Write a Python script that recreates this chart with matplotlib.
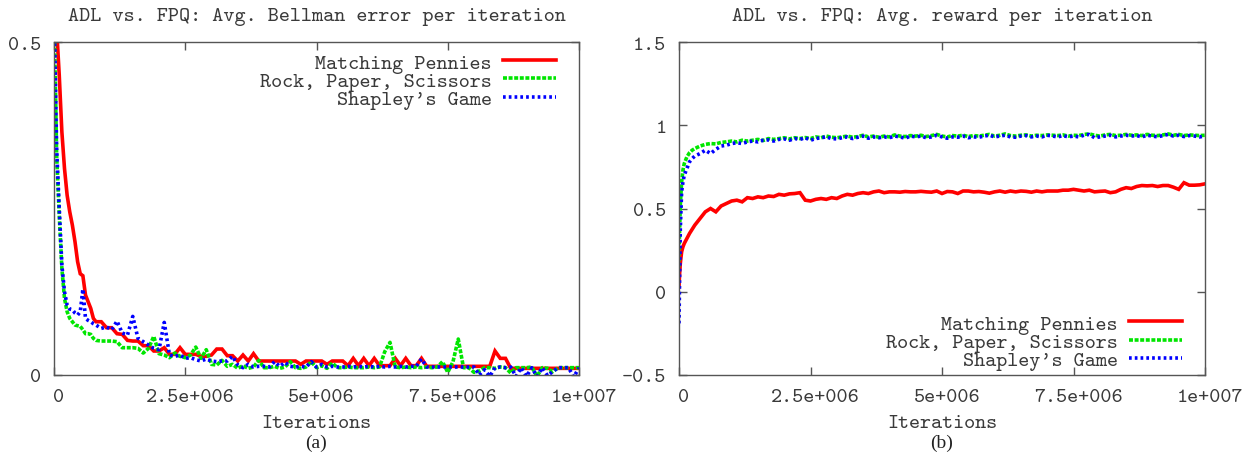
import numpy as np
import matplotlib
matplotlib.use("Agg")
import matplotlib.pyplot as plt
import matplotlib.transforms as mtransforms

# ---------------- data ----------------
# iterations (x) in units of 1e5
x_early_left = [0, 0.5, 1, 1.5, 2, 2.5, 3, 3.5, 4, 4.5, 5, 5.5, 6, 6.5, 7, 7.5, 8]
x_rest = list(range(9, 101))
x_left = np.array(x_early_left + x_rest) * 1e5

bell_mp = [0.62, 0.52, 0.45, 0.365, 0.31, 0.27, 0.245, 0.225, 0.20, 0.17, 0.152, 0.149, 0.12, 0.11, 0.10, 0.085, 0.080,
           0.080, 0.071, 0.071, 0.062, 0.061, 0.052, 0.051, 0.051, 0.044, 0.044, 0.036, 0.036, 0.041, 0.031, 0.031,
           0.041, 0.031, 0.031, 0.031, 0.028, 0.028, 0.030, 0.039, 0.039, 0.029, 0.029, 0.021, 0.030, 0.021, 0.032,
           0.021, 0.021, 0.021, 0.021, 0.021, 0.021, 0.021, 0.021, 0.016, 0.021, 0.021, 0.021, 0.021, 0.016, 0.021, 0.021, 0.021,
           0.014, 0.025, 0.014, 0.025, 0.014, 0.025, 0.014, 0.014, 0.014, 0.025, 0.014, 0.025, 0.014, 0.014, 0.025,
           0.013, 0.013, 0.013, 0.013, 0.013, 0.013, 0.013, 0.013, 0.013, 0.013, 0.013, 0.013, 0.013,
           0.036, 0.025, 0.025,
           0.010, 0.010, 0.010, 0.010, 0.010, 0.010, 0.010, 0.010, 0.010, 0.010, 0.010, 0.010, 0.010, 0.010]
bell_rps = [0.55, 0.33, 0.24, 0.16, 0.115, 0.095, 0.085, 0.080, 0.075, 0.074, 0.073, 0.068, 0.062, 0.062, 0.061, 0.055, 0.052,
            0.051, 0.051, 0.051, 0.050, 0.041, 0.041, 0.041, 0.040, 0.033, 0.040, 0.058, 0.032, 0.030, 0.026, 0.033,
            0.028, 0.026, 0.030, 0.042, 0.025, 0.038, 0.016, 0.015, 0.022, 0.013, 0.016, 0.010, 0.014, 0.010, 0.012,
            0.022, 0.011, 0.011, 0.013, 0.010, 0.012, 0.020, 0.011, 0.010, 0.012, 0.020, 0.011, 0.014, 0.010, 0.018, 0.011, 0.011,
            0.012, 0.011, 0.011, 0.011, 0.012, 0.011, 0.012, 0.035, 0.049, 0.012, 0.011, 0.012, 0.011, 0.012, 0.011,
            0.012, 0.011, 0.012, 0.020, 0.004, 0.020, 0.054, 0.011, 0.011, 0.004, 0.006, 0.011, 0.011,
            0.010, 0.012, 0.011,
            0.003, 0.011, 0.011, 0.011, 0.012, -0.002, 0.011, 0.010, 0.005, 0.011, 0.011, 0.011, 0.011, 0.011]
bell_sg = [0.55, 0.34, 0.25, 0.165, 0.125, 0.105, 0.099, 0.098, 0.093, 0.090, 0.095, 0.129, 0.085, 0.082, 0.080, 0.077, 0.075,
           0.070, 0.072, 0.068, 0.081, 0.063, 0.060, 0.088, 0.055, 0.050, 0.045, 0.040, 0.038, 0.079, 0.030, 0.028,
           0.030, 0.025, 0.026, 0.023, 0.021, 0.024, 0.021, 0.020, 0.021, 0.021, 0.028, 0.015, 0.011, 0.016, 0.012,
           0.013, 0.013, 0.012, 0.020, 0.013, 0.019, 0.013, 0.012, 0.013, 0.012, 0.020, 0.012, 0.016, 0.012, 0.013, 0.012, 0.012,
           0.013, 0.012, 0.013, 0.012, 0.013, 0.012, 0.013, 0.012, 0.013, 0.012, 0.013, 0.012, 0.013, 0.013, 0.024,
           0.012, 0.012, 0.012, 0.012, 0.012, 0.012, 0.012, 0.012, 0.012, 0.012, 0.000, 0.008, -0.002,
           0.011, 0.012, 0.011,
           0.012, -0.002, 0.011, -0.002, 0.011, -0.002, 0.011, -0.001, 0.005, 0.011, 0.011, 0.011, -0.003, 0.011]

x_early_right = [0, 0.1, 0.25, 0.5, 0.75, 1, 1.5, 2, 2.5, 3, 4, 5, 6, 7, 8]
x_right = np.array(x_early_right + x_rest) * 1e5

rew_mp = [0.03, 0.10, 0.17, 0.24, 0.27, 0.29, 0.32, 0.35, 0.375, 0.40, 0.44, 0.48, 0.50, 0.48, 0.515,
          0.53, 0.545, 0.55, 0.54, 0.565, 0.56, 0.57, 0.565, 0.575, 0.572, 0.585, 0.58, 0.588, 0.59, 0.595,
          0.55, 0.545, 0.555, 0.56, 0.555, 0.565, 0.56, 0.575, 0.585, 0.58, 0.59, 0.595, 0.59, 0.60, 0.605,
          0.595, 0.60, 0.60, 0.598, 0.602, 0.60, 0.60, 0.603, 0.60, 0.598, 0.605, 0.59, 0.602, 0.60, 0.59, 0.605, 0.605,
          0.60, 0.602, 0.598, 0.592, 0.60, 0.605, 0.598, 0.605, 0.60, 0.605, 0.603, 0.598, 0.605, 0.60, 0.605,
          0.605, 0.605, 0.61, 0.61, 0.615, 0.61, 0.605, 0.61, 0.60, 0.603, 0.605, 0.595, 0.60,
          0.615, 0.625, 0.62,
          0.632, 0.638, 0.636, 0.638, 0.632, 0.638, 0.638, 0.628, 0.615, 0.655, 0.64, 0.64, 0.642, 0.648]
rew_rps = [0.15, 0.35, 0.52, 0.66, 0.73, 0.77, 0.81, 0.835, 0.85, 0.86, 0.875, 0.885, 0.89, 0.888, 0.897,
           0.90, 0.905, 0.90, 0.91, 0.905, 0.91, 0.915, 0.908, 0.92, 0.915, 0.92, 0.925, 0.918, 0.925, 0.92,
           0.926, 0.92, 0.93, 0.925, 0.935, 0.928, 0.925, 0.93, 0.935, 0.928, 0.932, 0.94, 0.93, 0.935, 0.928,
           0.935, 0.93, 0.942, 0.935, 0.932, 0.938, 0.935, 0.94, 0.932, 0.938, 0.945, 0.935, 0.93, 0.938, 0.935, 0.94, 0.932,
           0.938, 0.935, 0.94, 0.945, 0.935, 0.94, 0.948, 0.938, 0.935, 0.94, 0.942, 0.935, 0.94, 0.938, 0.942,
           0.94, 0.938, 0.942, 0.935, 0.94, 0.938, 0.945, 0.948, 0.94, 0.935, 0.942, 0.945, 0.938,
           0.94, 0.945, 0.94,
           0.942, 0.938, 0.945, 0.94, 0.938, 0.942, 0.948, 0.94, 0.945, 0.938, 0.942, 0.94, 0.938, 0.94]
rew_sg = [-0.19, 0.05, 0.38, 0.60, 0.66, 0.70, 0.74, 0.78, 0.80, 0.815, 0.83, 0.85, 0.83, 0.855, 0.875,
          0.88, 0.89, 0.895, 0.89, 0.90, 0.905, 0.90, 0.91, 0.912, 0.905, 0.915, 0.918, 0.91, 0.92, 0.915,
          0.925, 0.91, 0.92, 0.925, 0.93, 0.92, 0.918, 0.925, 0.93, 0.92, 0.928, 0.935, 0.922, 0.93, 0.925,
          0.93, 0.925, 0.935, 0.93, 0.922, 0.935, 0.93, 0.935, 0.925, 0.93, 0.94, 0.93, 0.922, 0.93, 0.928, 0.935, 0.925,
          0.93, 0.928, 0.935, 0.94, 0.93, 0.935, 0.94, 0.93, 0.928, 0.935, 0.938, 0.93, 0.935, 0.93, 0.94,
          0.935, 0.93, 0.938, 0.93, 0.935, 0.93, 0.94, 0.945, 0.925, 0.93, 0.935, 0.94, 0.93,
          0.935, 0.94, 0.935,
          0.938, 0.93, 0.94, 0.935, 0.93, 0.938, 0.945, 0.935, 0.94, 0.932, 0.938, 0.935, 0.93, 0.935]

series_names = ["Matching Pennies", "Rock, Paper, Scissors", "Shapley's Game"]
xtick_vals = [0, 2.5e6, 5e6, 7.5e6, 1e7]
xtick_labels = ["0", "2.5e+006", "5e+006", "7.5e+006", "1e+007"]
left_yticks = [0, 0.5]
left_ylabels = ["0", "0.5"]
right_yticks = [-0.5, 0, 0.5, 1, 1.5]
right_ylabels = ["-0.5", "0", "0.5", "1", "1.5"]
titles = ["ADL vs. FPQ: Avg. Bellman error per iteration", "ADL vs. FPQ: Avg. reward per iteration"]
captions = ["(a)", "(b)"]

# ---------------- style ----------------
MONO = ["cmtt10", "Liberation Mono", "DejaVu Sans Mono"]
FS = 15.2
TXT = "#3a3a3a"
SPINE = "#555555"

fig = plt.figure(figsize=(12.54, 4.60), dpi=100)
W, H = 1254, 460
axL = fig.add_axes([54 / W, 1 - 376 / H, 525 / W, 333 / H])
axR = fig.add_axes([679 / W, 1 - 376 / H, 526 / W, 333 / H])

styles = [dict(color="#ff0000", lw=2.6, ls="-"),
          dict(color="#00e600", lw=2.6, ls=(0, (1.1, 0.45))),
          dict(color="#0000ff", lw=2.6, ls=(0, (0.75, 0.85)))]

def setup(ax, yticks, ylabels, ylim, title, caption):
    ax.set_xlim(0, 1e7)
    ax.set_ylim(*ylim)
    ax.set_xticks(xtick_vals)
    ax.set_xticklabels(xtick_labels)
    ax.set_yticks(yticks)
    ax.set_yticklabels(ylabels)
    ax.tick_params(direction="in", length=6, width=1.0, colors=SPINE, top=True, right=True,
                   labelsize=FS, labelcolor=TXT, pad=9)
    for lab in ax.get_xticklabels() + ax.get_yticklabels():
        lab.set_family(MONO)
    off = mtransforms.ScaledTranslation(5 / 100, 0, fig.dpi_scale_trans)
    for lab in ax.get_xticklabels():
        lab.set_transform(lab.get_transform() + off)
    for s in ax.spines.values():
        s.set_color(SPINE)
        s.set_linewidth(1.0)
    ax.text(0.5, 1 + 26 / 333, title, transform=ax.transAxes, ha="center", va="center",
            fontsize=FS, color=TXT, family=MONO)
    ax.text(0.5, -48 / 333, "Iterations", transform=ax.transAxes, ha="center", va="center",
            fontsize=FS, color=TXT, family=MONO)
    ax.text(0.5, -67 / 333, caption, transform=ax.transAxes, ha="center", va="center",
            fontsize=14, color="#222222", family=["Liberation Serif", "DejaVu Serif"])

for ys, name, st in zip([bell_mp, bell_rps, bell_sg], series_names, styles):
    axL.plot(x_left, ys, label=name, dash_capstyle="butt", solid_joinstyle="miter", **st)
for ys, name, st in zip([rew_mp, rew_rps, rew_sg], series_names, styles):
    axR.plot(x_right, ys, label=name, dash_capstyle="butt", solid_joinstyle="miter", **st)

setup(axL, left_yticks, left_ylabels, (0, 0.5), titles[0], captions[0])
setup(axR, right_yticks, right_ylabels, (-0.5, 1.5), titles[1], captions[1])

leg_kw = dict(frameon=False, markerfirst=False, handlelength=2.5, handletextpad=0.55,
              labelspacing=-0.08, borderpad=0, borderaxespad=0,
              prop={"family": MONO, "size": FS}, labelcolor=TXT)
axL.legend(loc="upper right", bbox_to_anchor=((556 - 54) / 525, (376 - 54) / 333), **leg_kw)
axR.legend(loc="lower right", bbox_to_anchor=((1182 - 679) / 526, (376 - 371) / 333), **leg_kw)

fig.savefig("out.png", dpi=100)
